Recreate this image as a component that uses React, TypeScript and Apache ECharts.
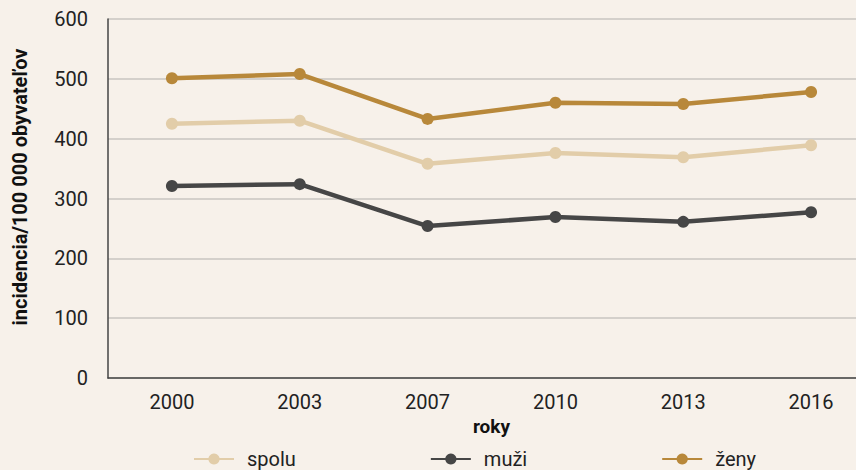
import React, { useEffect, useRef } from "react";
import * as echarts from "echarts";

const years = ["2000", "2003", "2007", "2010", "2013", "2016"];
const spolu = [425, 430, 358, 376, 369, 389];
const muzi = [321, 324, 254, 269, 261, 277];
const zeny = [501, 508, 433, 460, 458, 478];
const seriesNames = ["spolu", "muži", "ženy"];
const colors = ["#e2cda9", "#464646", "#b8883a"];
const yTitle = "incidencia/100 000 obyvateľov";
const xTitle = "roky";

export default function App() {
  const ref = useRef<HTMLDivElement>(null);
  useEffect(() => {
    if (!ref.current) return;
    const chart = echarts.init(ref.current, undefined, { renderer: "svg" });
    const font = "Roboto";
    const dataSets = [spolu, muzi, zeny];
    chart.setOption({
      animation: false,
      backgroundColor: "#f7f1ea",
      textStyle: { fontFamily: font },
      grid: { left: 108, right: 0, top: 19, bottom: 92 },
      legend: {
        left: 188,
        top: 444,
        itemWidth: 40,
        itemHeight: 14,
        itemGap: 134,
        textStyle: { fontSize: 20, color: "#222", fontFamily: font, padding: [0, 0, 0, 8] },
        data: seriesNames,
      },
      graphic: [
        {
          type: "text",
          x: 20,
          y: 187,
          rotation: Math.PI / 2,
          style: {
            text: yTitle,
            fontSize: 20,
            fontWeight: "bold",
            fill: "#111",
            fontFamily: font,
            align: "center",
            verticalAlign: "middle",
          },
        },
      ],
      xAxis: {
        type: "category",
        data: years,
        name: xTitle,
        nameLocation: "middle",
        nameGap: 35,
        nameTextStyle: { fontSize: 19, fontWeight: "bold", color: "#111", fontFamily: font },
        axisLine: { lineStyle: { color: "#444", width: 1.5 } },
        axisTick: { show: false },
        axisLabel: { fontSize: 20, color: "#222", margin: 14, fontFamily: font },
      },
      yAxis: {
        type: "value",
        min: 0,
        max: 600,
        interval: 100,
        axisLine: { show: true, lineStyle: { color: "#444", width: 1.5 } },
        axisTick: { show: false },
        axisLabel: { fontSize: 20, color: "#222", margin: 20, fontFamily: font },
        splitLine: { lineStyle: { color: "#c8c5c1", width: 1.5 } },
      },
      series: seriesNames.map((n, i) => ({
        name: n,
        type: "line",
        data: dataSets[i],
        symbol: "circle",
        symbolSize: 12,
        color: colors[i],
        lineStyle: { width: 4.5, color: colors[i] },
        itemStyle: { color: colors[i] },
      })),
    });
    return () => chart.dispose();
  }, []);
  return <div ref={ref} style={{ position: "fixed", left: 0, top: 0, width: 875, height: 470 }} />;
}
